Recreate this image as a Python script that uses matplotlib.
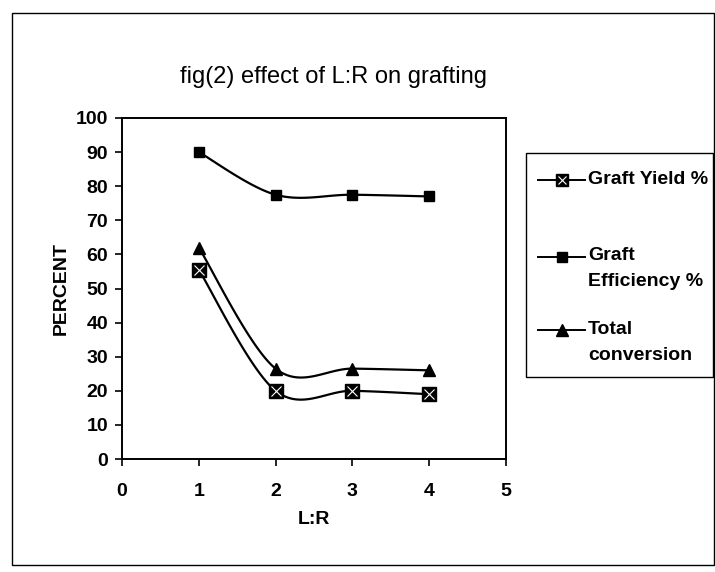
import numpy as np
import matplotlib
matplotlib.use("Agg")
import matplotlib.pyplot as plt
from matplotlib.patches import Rectangle
from matplotlib.lines import Line2D

plt.rcParams['font.family'] = ['Liberation Sans', 'DejaVu Sans']

# ---- data ----
lr = [1, 2, 3, 4]
graft_yield = [55.5, 20, 20, 19]
graft_eff = [90, 77.5, 77.5, 77]
total_conv = [62, 26.5, 26.5, 26]
series_names = ["Graft Yield %", "Graft\nEfficiency %", "Total\nconversion"]
title = "fig(2) effect of L:R on grafting"
x_ticks = [0, 1, 2, 3, 4, 5]
y_ticks = list(range(0, 101, 10))


def smooth(xs, ys, n=40):
    """Excel-like smoothed line (Catmull-Rom Bezier) through the data points."""
    P = np.column_stack([xs, ys]).astype(float)
    m = len(P)
    out = []
    for i in range(m - 1):
        p0 = P[i - 1] if i > 0 else P[i]
        p1 = P[i]
        p2 = P[i + 1]
        p3 = P[i + 2] if i + 2 < m else P[i + 1]
        c1 = p1 + (p2 - p0) / 6.0
        c2 = p2 - (p3 - p1) / 6.0
        t = np.linspace(0, 1, n)[:, None]
        seg = ((1 - t) ** 3) * p1 + 3 * ((1 - t) ** 2) * t * c1 + 3 * (1 - t) * t ** 2 * c2 + t ** 3 * p2
        out.append(seg if i == 0 else seg[1:])
    s = np.vstack(out)
    return s[:, 0], s[:, 1]


W, H = 715, 572
fig = plt.figure(figsize=(W / 100, H / 100), dpi=100)

# outer chart frame
fig.add_artist(Rectangle((12 / W, 1 - 565 / H), (W - 13) / W, (565 - 13) / H,
                         transform=fig.transFigure, fill=False, edgecolor='black', lw=1.0))

ax = fig.add_axes([122 / W, 1 - 459 / H, (506 - 122) / W, (459 - 118) / H])

lw = 1.6
# Graft yield
sx, sy = smooth(lr, graft_yield)
ax.plot(sx, sy, color='black', lw=lw, zorder=2)
ax.plot(lr, graft_yield, ls='none', marker='s', ms=10, mfc='black', mec='black', zorder=3)
ax.plot(lr, graft_yield, ls='none', marker='x', ms=6.5, mec='white', mew=0.8, zorder=4)
# Graft efficiency
sx, sy = smooth(lr, graft_eff)
ax.plot(sx, sy, color='black', lw=lw, zorder=2)
ax.plot(lr, graft_eff, ls='none', marker='s', ms=7.5, mfc='black', mec='black', zorder=3)
# Total conversion
sx, sy = smooth(lr, total_conv)
ax.plot(sx, sy, color='black', lw=lw, zorder=2)
ax.plot(lr, total_conv, ls='none', marker='^', ms=9, mfc='black', mec='black', zorder=3)

ax.set_xlim(0, 5)
ax.set_ylim(0, 100)
ax.set_xticks(x_ticks)
ax.set_yticks(y_ticks)
ax.tick_params(axis='both', direction='out', length=5, width=1.2, labelsize=14, pad=5)
for lab in ax.get_xticklabels() + ax.get_yticklabels():
    lab.set_fontweight('bold')
ax.tick_params(axis='x', pad=12)
for sp in ax.spines.values():
    sp.set_linewidth(1.4)

ax.set_xlabel("L:R", fontsize=14, fontweight='bold', labelpad=8)
ax.set_ylabel("PERCENT", fontsize=14, fontweight='bold', labelpad=4)

fig.text(333 / W, 1 - 77 / H, title, ha='center', va='center', fontsize=17)

# legend box
fig.add_artist(Rectangle((526 / W, 1 - 377 / H), (713 - 526) / W, (377 - 153) / H,
                         transform=fig.transFigure, fill=False, edgecolor='black', lw=1.0))
legend_specs = [
    (180, dict(marker='s', ms=9, mfc='black', mec='black'), True),
    (257, dict(marker='s', ms=6.5, mfc='black', mec='black'), False),
    (330, dict(marker='^', ms=8, mfc='black', mec='black'), False),
]
for (yc, mk, xover), name in zip(legend_specs, series_names):
    yf = 1 - yc / H
    fig.add_artist(Line2D([538 / W, 585 / W], [yf, yf], transform=fig.transFigure,
                          color='black', lw=1.4))
    fig.add_artist(Line2D([561.5 / W], [yf], transform=fig.transFigure, ls='none', **mk))
    if xover:
        fig.add_artist(Line2D([561.5 / W], [yf], transform=fig.transFigure, ls='none',
                              marker='x', ms=5.5, mec='white', mew=0.8))
    lines = name.split("\n")
    fig.text(588 / W, 1 - (yc - 1) / H, lines[0], ha='left', va='center',
             fontsize=14, fontweight='bold')
    if len(lines) > 1:
        fig.text(588 / W, 1 - (yc + 25) / H, lines[1], ha='left', va='center',
                 fontsize=14, fontweight='bold')

fig.savefig("out.png", dpi=100)
